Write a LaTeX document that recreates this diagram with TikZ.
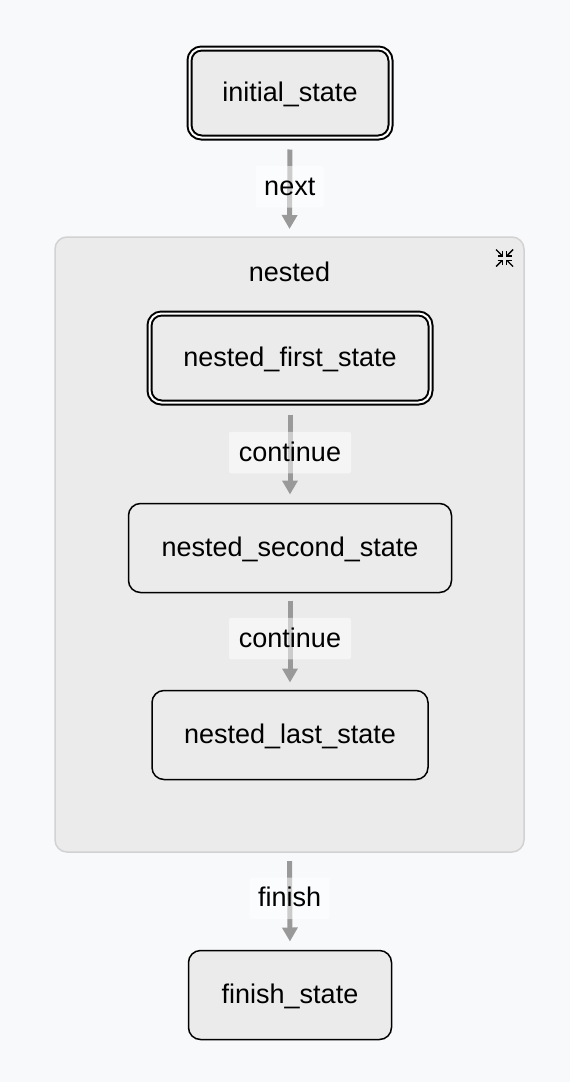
\documentclass[tikz,border=0pt]{standalone}
\usepackage{fontspec}
\setmainfont{Liberation Sans}
\usetikzlibrary{arrows.meta}
\definecolor{pagebg}{HTML}{F8F9FB}
\definecolor{boxfill}{HTML}{EBEBEB}
\definecolor{clusterline}{HTML}{D2D2D2}
\definecolor{edgegray}{HTML}{999999}
\tikzset{
  x=1pt,y=-1pt,
  txt/.style={font=\fontsize{27}{31}\selectfont,text=black,text height=21pt,text depth=4pt,inner sep=0pt,outer sep=0pt},
  statebox/.style={txt,draw=black,fill=boxfill,line width=1.5pt,rounded corners=12pt,minimum height=89pt},
  startbox/.style={txt,draw=black,double=white,double distance=2pt,line width=2pt,fill=boxfill,rounded corners=12pt,minimum height=89pt},
  clusterbox/.style={draw=clusterline,fill=boxfill,line width=1.5pt,rounded corners=12pt,outer sep=0pt,inner sep=0pt},
  flow/.style={draw=edgegray,line width=5pt,-{Triangle[length=14pt,width=15pt]}},
  edgelabel/.style={txt,fill=white,fill opacity=.5,text opacity=1,rounded corners=2pt,minimum height=41.5pt},
  iconarrow/.style={draw=black,line width=1.4pt,line cap=butt}
}
\begin{document}
\begin{tikzpicture}
\useasboundingbox (0,0) rectangle (570,1082);
\fill[pagebg] (0,0) rectangle (570,1082);
\node[clusterbox,minimum width=469pt,minimum height=615pt] (nested) at (289.5,544.5) {};
\node[txt] (nestedtitle) at (289.5,273) {nested};
\node[startbox,minimum width=201pt] (initial) at (290,93) {initial\_state};
\node[startbox,minimum width=281pt] (first) at (290,358) {nested\_first\_state};
\node[statebox,minimum width=323pt] (second) at (290,548) {nested\_second\_state};
\node[statebox,minimum width=276pt] (last) at (290,735) {nested\_last\_state};
\node[statebox,minimum width=203pt] (finish) at (290,995) {finish\_state};
\draw[flow,shorten <=12pt,shorten >=8pt] (initial.south) -- node[edgelabel,pos=.495,minimum width=68pt] (lnext) {next} (nested.north);
\draw[flow,shorten <=12pt,shorten >=9pt] (first.south) -- node[edgelabel,pos=.495,minimum width=122pt] (lcont1) {continue} (second.north);
\draw[flow,shorten <=8pt,shorten >=8pt] (second.south) -- node[edgelabel,pos=.47,minimum width=122pt] (lcont2) {continue} (last.north);
\draw[flow,shorten <=9pt,shorten >=9pt] (nested.south) -- node[edgelabel,pos=.47,minimum width=80pt] (lfinish) {finish} (finish.north);
% collapse icon
\foreach \sx/\sy in {-1/-1,1/-1,-1/1,1/1}{
  \draw[iconarrow] (504.5+\sx*8.5,258+\sy*8.5) -- (504.5+\sx*3,258+\sy*3);
  \draw[iconarrow] (504.5+\sx*7,258+\sy*2.2) -- (504.5+\sx*2.2,258+\sy*2.2) -- (504.5+\sx*2.2,258+\sy*7);
}
\end{tikzpicture}
\end{document}
